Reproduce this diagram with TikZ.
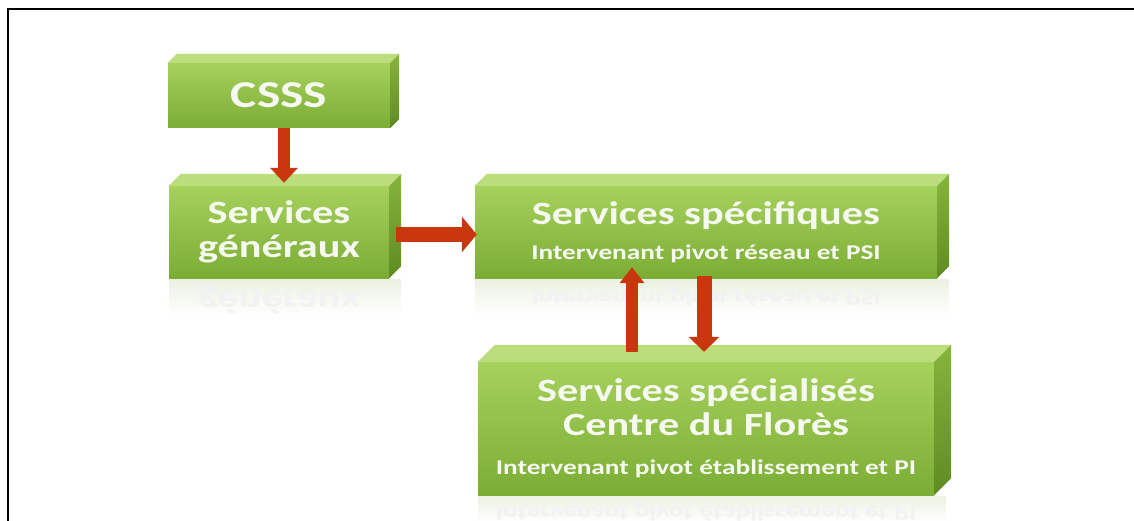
\documentclass[tikz,border=0pt]{standalone}
\usepackage{fontspec}
\setmainfont{Carlito}[FakeStretch=1.3]
\usepackage{graphicx}
\usepackage{tikz}
\usetikzlibrary{arrows.meta}

\definecolor{blockhi}{HTML}{A6D15C}
\definecolor{blocklo}{HTML}{7BAD35}
\definecolor{blocktop}{HTML}{BCDD7B}
\definecolor{sidehi}{HTML}{86B53E}
\definecolor{sidelo}{HTML}{5E8B21}
\definecolor{blocktext}{HTML}{F6F9F0}
\definecolor{arrowred}{HTML}{C8370D}
\definecolor{reflgreen}{HTML}{EBF1E3}

\newcommand{\bigtxt}{\fontsize{32.5}{34}\selectfont}
\newcommand{\smalltxt}{\fontsize{21}{24}\selectfont}

\begin{document}
\begin{tikzpicture}[x=1pt, y=-1pt,
    block/.style={rectangle, inner sep=0pt, top color=blockhi, bottom color=blocklo,
        text=blocktext, font=\bfseries\bigtxt, align=center},
    topface/.style={fill=blocktop},
    sideface/.style={top color=sidehi, bottom color=sidelo},
    refl/.style={top color=reflgreen, bottom color=white, draw=none},
    refltext/.style={text=black!5, font=\bfseries, inner sep=0pt},
    bigarrow/.style n args={3}{draw=arrowred, line width=#1, -{Triangle[width=#2, length=#3]}}]
    \useasboundingbox (0,0) rectangle (1134,521);

    % frame
    \draw[line width=2.5] (8,521) -- (8,9) -- (1134,9);

    % blocks (front faces)
    \node[block, minimum width=222, minimum height=65] (csss) at (279,95.5) {\fontsize{38}{40}\selectfont CSSS};
    \node[block, minimum width=220, minimum height=92] (gen) at (279,232) {Services\\ généraux};
    \node[block, minimum width=462, minimum height=92] (spec) at (706,232)
        {Services spécifiques\\[1pt] {\smalltxt Intervenant pivot réseau et PSI}};
    \node[block, minimum width=456, minimum height=133] (spl) at (706,428.5)
        {Services spécialisés\\ Centre du Florès\\[5pt] {\smalltxt Intervenant pivot établissement et PI}};

    % reflections
    \fill[refl] ([yshift=-1]gen.south west) rectangle ++(232,36);
    \fill[refl] ([yshift=-1]spec.south west) rectangle ++(474,36);
    \fill[refl] ([yshift=-1]spl.south west) rectangle ++(468,26);
    \node[refltext] (gen-refl) at (279,300) {\scalebox{1}[-1]{\bigtxt généraux}};
    \node[refltext] (spec-refl) at (706,297) {\scalebox{1}[-1]{\smalltxt Intervenant pivot réseau et PSI}};
    \node[refltext] (spl-refl) at (706,512) {\scalebox{1}[-1]{\smalltxt Intervenant pivot établissement et PI}};

    % top and side faces
    \foreach \b/\d in {csss/9, gen/12, spec/12, spl/17} {
        \fill[topface] (\b.north west) -- ++(\d,-\d) -- ([shift={(\d,-\d)}]\b.north east) -- (\b.north east) -- cycle;
        \shade[sideface] (\b.north east) -- ++(\d,-\d) -- ([shift={(\d,-\d)}]\b.south east) -- (\b.south east) -- cycle;
    }

    % arrows
    \draw[bigarrow={12}{27}{15}] ([xshift=5]csss.south) -- ([xshift=5,yshift=3]gen.north);
    \draw[bigarrow={15}{35}{15}] ([xshift=7,yshift=-2.5]gen.east) -- ([xshift=2,yshift=-2.5]spec.west);
    \draw[bigarrow={12}{24}{16}] ([xshift=-74,yshift=10]spl.north) -- ([xshift=-74,yshift=11]spec.south);
    \draw[bigarrow={15}{30}{15}] ([xshift=-2,yshift=2]spec.south) -- ([xshift=-2,yshift=10]spl.north);
\end{tikzpicture}
\end{document}
